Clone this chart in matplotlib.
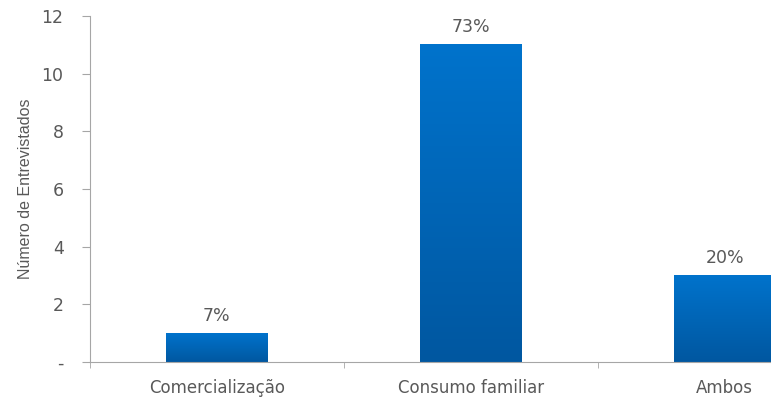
import numpy as np
import matplotlib.pyplot as plt
from matplotlib.colors import LinearSegmentedColormap

categories = ["Comercialização", "Consumo familiar", "Ambos"]
counts = [1, 11, 3]
y_ticks = [0, 2, 4, 6, 8, 10, 12]
y_tick_labels = ["-", "2", "4", "6", "8", "10", "12"]

grey = "#595959"
bar_cmap = LinearSegmentedColormap.from_list("bar_blue", ["#0057a0", "#0073cc"])

fig = plt.figure(figsize=(7.71, 3.99), dpi=100)
# axes run past the right edge of the figure, so the last bar is cut off
ax = fig.add_axes([0.1167, 0.0927, 0.988, 0.867])

x = np.arange(len(categories))
bars = ax.bar(x, counts, width=0.4, color="none", edgecolor="none")

# vertical gradient fill for each bar
grad = np.linspace(0, 1, 256).reshape(-1, 1)
for b in bars:
    x0, y0 = b.get_x(), b.get_y()
    ax.imshow(grad, extent=(x0, x0 + b.get_width(), y0, y0 + b.get_height()),
              origin="lower", cmap=bar_cmap, aspect="auto", zorder=2)

total = sum(counts)
for xi, c in zip(x, counts):
    ax.text(xi, c + 0.3, f"{round(100 * c / total)}%", ha="center", va="bottom",
            fontsize=12.5, color=grey, family="DejaVu Sans")

ax.set_xlim(-0.5, len(categories) - 0.5)
ax.set_ylim(0, 12)
ax.set_yticks(y_ticks)
ax.set_yticklabels(y_tick_labels, fontsize=12.5, color=grey, family="DejaVu Sans")
ax.set_xticks(x)
ax.set_xticklabels(categories, fontsize=12, color=grey, family="DejaVu Sans")
ax.set_xticks(np.arange(len(categories) + 1) - 0.5, minor=True)
ax.tick_params(axis="x", which="major", length=0, pad=12)
ax.tick_params(axis="x", which="minor", length=4, color="#a6a6a6", direction="out")
ax.tick_params(axis="y", length=6, color="#a6a6a6", pad=13)

ax.set_ylabel("Número de Entrevistados", fontsize=11.5, color=grey,
              family="Liberation Sans", labelpad=6)

for side in ["top", "right"]:
    ax.spines[side].set_visible(False)
for side in ["left", "bottom"]:
    ax.spines[side].set_color("#a6a6a6")

fig.savefig("out.png", dpi=100)
